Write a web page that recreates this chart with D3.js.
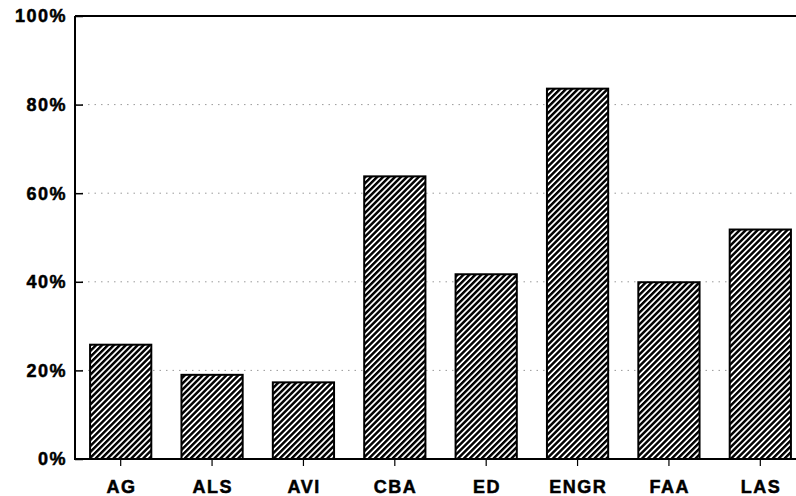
<!DOCTYPE html>
<html>
<head>
<meta charset="utf-8">
<script src="https://cdn.jsdelivr.net/npm/d3@7"></script>
<style>
  html, body { margin: 0; padding: 0; background: #fff; }
  svg { display: block; }
  .lbl { font-family: "Liberation Sans", Arial, Helvetica, sans-serif; font-weight: bold; font-size: 18px; letter-spacing: 1.5px; fill: #000; stroke: #000; stroke-width: 0.5px; }
</style>
</head>
<body>
<svg id="chart" width="796" height="496"></svg>
<script>
// Share of students by college
const categories = ["AG", "ALS", "AVI", "CBA", "ED", "ENGR", "FAA", "LAS"];
const values = [25.8, 19.0, 17.3, 63.8, 41.7, 83.6, 39.9, 51.8];
const yTicks = [0, 20, 40, 60, 80, 100];
const yTickLabels = ["0%", "20%", "40%", "60%", "80%", "100%"];

const svg = d3.select("#chart");
const plot = { left: 75, right: 806, top: 16, bottom: 459 };

const x = d3.scaleBand()
  .domain(categories)
  .range([plot.left, plot.right])
  .paddingInner(0.33)
  .paddingOuter(0.165);

const y = d3.scaleLinear().domain([0, 100]).range([plot.bottom, plot.top]);

// Diagonal hatch fill for the bars
const defs = svg.append("defs");
const pat = defs.append("pattern")
  .attr("id", "hatch")
  .attr("patternUnits", "userSpaceOnUse")
  .attr("width", 4.2)
  .attr("height", 4.2)
  .attr("patternTransform", "rotate(45)");
pat.append("rect").attr("width", 4.2).attr("height", 4.2).attr("fill", "#fff");
pat.append("line")
  .attr("x1", 1.2).attr("y1", 0).attr("x2", 1.2).attr("y2", 4.2)
  .attr("stroke", "#000").attr("stroke-width", 2.5);

// Dotted gridlines
svg.append("g")
  .selectAll("line")
  .data(yTicks.filter(d => d > 0 && d < 100))
  .join("line")
  .attr("x1", plot.left)
  .attr("x2", plot.right)
  .attr("y1", d => y(d))
  .attr("y2", d => y(d))
  .attr("stroke", "#9a9a9a")
  .attr("stroke-width", 1)
  .attr("stroke-dasharray", "1.5,5");

// Bars
svg.append("g")
  .selectAll("rect")
  .data(categories.map((c, i) => ({ c, v: values[i] })))
  .join("rect")
  .attr("x", d => x(d.c))
  .attr("y", d => y(d.v))
  .attr("width", x.bandwidth())
  .attr("height", d => y(0) - y(d.v))
  .attr("fill", "url(#hatch)")
  .attr("stroke", "#000")
  .attr("stroke-width", 2);

// Frame: left axis, top border, baseline
const frame = svg.append("g").attr("stroke", "#000").attr("fill", "none");
frame.append("line").attr("x1", plot.left).attr("x2", plot.left)
  .attr("y1", plot.top).attr("y2", plot.bottom).attr("stroke-width", 2);
frame.append("line").attr("x1", plot.left).attr("x2", plot.right)
  .attr("y1", plot.top).attr("y2", plot.top).attr("stroke-width", 2);
frame.append("line").attr("x1", plot.left - 1).attr("x2", plot.right)
  .attr("y1", plot.bottom).attr("y2", plot.bottom).attr("stroke-width", 2);

// Y axis: inward ticks, labels on the left
const yAxis = d3.axisRight(y)
  .tickValues(yTicks)
  .tickSize(8)
  .tickFormat("");
const yg = svg.append("g").attr("transform", `translate(${plot.left},0)`).call(yAxis);
yg.select(".domain").remove();
yg.selectAll(".tick line").attr("stroke", "#000").attr("stroke-width", 1.5);

svg.append("g")
  .selectAll("text")
  .data(yTicks)
  .join("text")
  .attr("class", "lbl")
  .attr("x", 67)
  .attr("y", d => y(d))
  .attr("dy", "0.36em")
  .attr("text-anchor", "end")
  .text((d, i) => yTickLabels[i]);

// X axis: short ticks below baseline, category labels
const xAxis = d3.axisBottom(x).tickSize(7).tickSizeOuter(0).tickFormat("");
const xg = svg.append("g").attr("transform", `translate(0,${plot.bottom})`).call(xAxis);
xg.select(".domain").remove();
xg.selectAll(".tick line").attr("stroke", "#000").attr("stroke-width", 1.2);

svg.append("g")
  .selectAll("text")
  .data(categories)
  .join("text")
  .attr("class", "lbl")
  .attr("x", d => x(d) + x.bandwidth() / 2 + 0.75)
  .attr("y", 493)
  .attr("text-anchor", "middle")
  .text(d => d);
</script>
</body>
</html>
